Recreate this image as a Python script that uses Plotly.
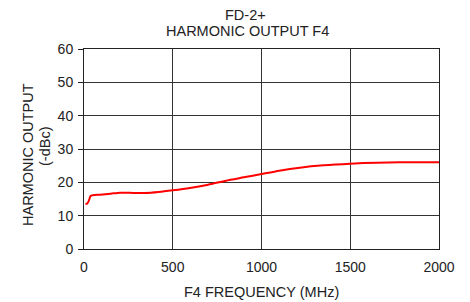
import plotly.graph_objects as go

freq = [8, 18, 28, 37, 50, 90, 150, 203, 280, 343, 420, 500, 597, 700, 800, 900, 1000, 1100, 1216, 1350, 1500, 1650, 1780, 1900, 2000]
harm = [13.6, 13.6, 14.6, 15.9, 16.1, 16.3, 16.6, 16.9, 16.8, 16.8, 17.1, 17.6, 18.3, 19.3, 20.5, 21.5, 22.5, 23.5, 24.4, 25.1, 25.6, 25.9, 26.0, 26.0, 26.0]

x_ticks = [0, 500, 1000, 1500, 2000]
y_ticks = [0, 10, 20, 30, 40, 50, 60]

title_lines = ["FD-2+", "HARMONIC OUTPUT F4"]
x_title = "F4 FREQUENCY (MHz)"
y_title_lines = ["HARMONIC OUTPUT", "(-dBc)"]

FONT = "Liberation Sans, Arial, sans-serif"
TXT = "#222"

W, H = 462, 294
L, R, T, B = 76, 31, 41, 53
pw = W - L - R
ph = H - T - B


def px_x(px):
    return (px - L) / pw


def px_y(py):
    return 1 + (T - py) / ph


fig = go.Figure()
fig.add_trace(go.Scatter(x=freq, y=harm, mode="lines",
                         line=dict(color="#ff0000", width=2, shape="spline", smoothing=0.6),
                         showlegend=False, hoverinfo="skip"))

axis_common = dict(showline=True, linecolor=TXT, linewidth=1, mirror=True,
                   showgrid=True, gridcolor="#333", gridwidth=1, zeroline=False,
                   tickfont=dict(family=FONT, size=14, color=TXT))

fig.update_xaxes(range=[0, 2000], tickvals=x_ticks, ticks="", ticklabelstandoff=5, **axis_common)
fig.update_yaxes(range=[0, 60], tickvals=y_ticks, ticks="outside", ticklen=5, tickcolor=TXT,
                 ticklabelstandoff=2, **axis_common)

tf = dict(family=FONT, size=14.5, color=TXT)
ann = [
    dict(text=title_lines[0], x=px_x(237), y=px_y(7), xanchor="center", yanchor="middle"),
    dict(text=title_lines[1], x=px_x(239), y=px_y(23), xanchor="center", yanchor="middle"),
    dict(text=x_title, x=px_x(253.5), y=px_y(284), xanchor="center", yanchor="middle"),
    dict(text=y_title_lines[0], x=px_x(20), y=px_y(146), xanchor="center", yanchor="middle", textangle=-90),
    dict(text=y_title_lines[1], x=px_x(37), y=px_y(139), xanchor="center", yanchor="middle", textangle=-90),
]
for a in ann:
    a.update(xref="paper", yref="paper", showarrow=False, font=tf)

fig.update_layout(
    width=W, height=H,
    margin=dict(l=L, r=R, t=T, b=B, autoexpand=False),
    paper_bgcolor="white", plot_bgcolor="white",
    font=dict(family=FONT, size=14, color=TXT),
    annotations=ann,
)

fig.write_html("out.html")
